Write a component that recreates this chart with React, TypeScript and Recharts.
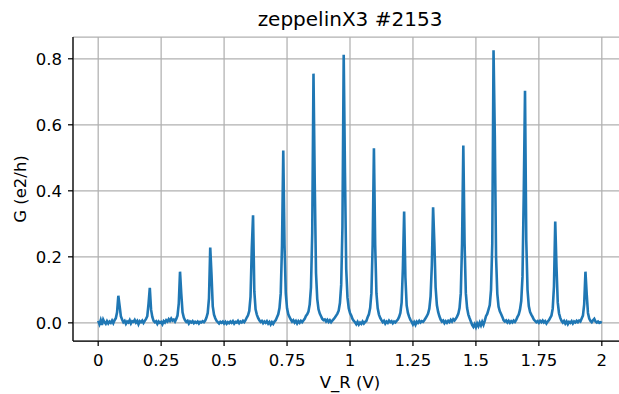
import { CartesianGrid, Line, LineChart, XAxis, YAxis } from "recharts";

// sweep of V_R: 0 → 2 V in 5 mV steps
const VR_START = 0;
const VR_STEP = 0.005;

// G (e2/h), one list per quarter volt
const g0 = [0.006, -0.004, 0.008, -0.006, 0.01, 0.002, -0.003, 0.005, -0.002, 0.004, 0.0, 0.007, -0.001, 0.008, 0.014, 0.032, 0.082, 0.052, 0.02, 0.01, 0.002, 0.006, -0.003, 0.004, 0.001, 0.008, -0.002, 0.005, 0.003, 0.009, 0.001, 0.006, -0.004, 0.005, 0.002, 0.007, 0.0, 0.006, 0.012, 0.02, 0.058, 0.106, 0.04, 0.018, 0.006, 0.002, 0.005, -0.003, 0.004, 0.0];
const g1 = [0.003, -0.004, 0.005, 0.001, 0.008, 0.004, 0.011, 0.006, 0.013, 0.007, 0.01, 0.004, 0.012, 0.022, 0.058, 0.155, 0.088, 0.032, 0.016, 0.008, 0.003, 0.006, -0.002, 0.004, 0.001, 0.005, -0.001, 0.003, 0.0, 0.004, -0.002, 0.003, 0.001, 0.005, 0.002, 0.007, 0.016, 0.03, 0.074, 0.228, 0.146, 0.05, 0.025, 0.014, 0.006, 0.002, -0.002, 0.003, 0.0, 0.004];
const g2 = [-0.002, 0.003, -0.003, 0.002, -0.001, 0.004, 0.0, 0.005, -0.002, 0.003, 0.001, 0.006, -0.001, 0.004, 0.001, 0.006, 0.002, 0.008, 0.016, 0.023, 0.036, 0.079, 0.226, 0.326, 0.096, 0.041, 0.025, 0.015, 0.008, 0.003, 0.006, -0.001, 0.004, 0.0, 0.005, -0.002, 0.003, -0.005, 0.002, -0.003, 0.004, 0.008, 0.017, 0.026, 0.045, 0.09, 0.234, 0.522, 0.234, 0.089];
const g3 = [0.044, 0.026, 0.017, 0.01, 0.004, 0.008, 0.001, 0.006, -0.002, 0.005, 0.0, 0.006, 0.002, 0.007, 0.012, 0.021, 0.026, 0.034, 0.056, 0.107, 0.272, 0.755, 0.422, 0.151, 0.072, 0.041, 0.028, 0.02, 0.012, 0.008, 0.01, 0.004, 0.009, 0.003, 0.008, 0.002, 0.007, 0.011, 0.016, 0.022, 0.028, 0.037, 0.06, 0.115, 0.291, 0.812, 0.456, 0.163, 0.077, 0.044];
const g4 = [0.03, 0.022, 0.012, 0.006, 0.002, -0.004, 0.003, -0.005, 0.001, -0.003, 0.004, -0.002, 0.003, 0.006, 0.017, 0.026, 0.045, 0.09, 0.237, 0.529, 0.236, 0.089, 0.044, 0.025, 0.015, 0.008, 0.002, 0.006, -0.002, 0.004, 0.0, 0.007, 0.002, 0.005, -0.001, 0.004, 0.001, 0.006, 0.01, 0.018, 0.03, 0.061, 0.165, 0.337, 0.138, 0.053, 0.03, 0.018, 0.009, 0.003];
const g5 = [-0.005, 0.002, -0.006, 0.004, 0.0, 0.006, 0.001, 0.005, 0.003, 0.008, 0.014, 0.02, 0.028, 0.043, 0.08, 0.175, 0.35, 0.242, 0.107, 0.054, 0.033, 0.02, 0.01, 0.004, 0.007, -0.001, 0.005, 0.0, 0.006, 0.002, 0.009, 0.004, 0.011, 0.007, 0.012, 0.019, 0.027, 0.045, 0.09, 0.24, 0.537, 0.24, 0.09, 0.045, 0.025, 0.014, 0.004, -0.006, -0.012, -0.004];
const g6 = [-0.013, -0.002, -0.01, 0.001, -0.008, 0.003, -0.006, 0.006, 0.02, 0.027, 0.04, 0.054, 0.1, 0.24, 0.826, 0.57, 0.2, 0.088, 0.049, 0.035, 0.027, 0.018, 0.008, 0.004, 0.007, 0.001, 0.006, 0.0, 0.005, 0.001, 0.007, 0.003, 0.009, 0.018, 0.025, 0.04, 0.066, 0.14, 0.39, 0.703, 0.25, 0.1, 0.051, 0.033, 0.025, 0.018, 0.01, 0.006, 0.002, 0.005];
const g7 = [0.0, 0.006, 0.002, 0.007, 0.001, 0.005, -0.002, 0.004, 0.008, 0.015, 0.022, 0.043, 0.11, 0.307, 0.17, 0.062, 0.029, 0.015, 0.006, 0.001, 0.006, -0.002, 0.004, -0.004, 0.003, 0.0, 0.005, -0.002, 0.004, 0.001, 0.006, 0.002, 0.007, 0.004, 0.013, 0.022, 0.056, 0.155, 0.087, 0.03, 0.013, 0.006, 0.002, 0.008, 0.012, 0.004, 0.001, 0.004, 0.0, 0.002, 0.0];

const xTicks = [0, 0.25, 0.5, 0.75, 1, 1.25, 1.5, 1.75, 2];
const yTicks = [0, 0.2, 0.4, 0.6, 0.8];

const TITLE = "zeppelinX3 #2153";
const X_LABEL = "V_R (V)";
const Y_LABEL = "G (e2/h)";

const rows = [...g0, ...g1, ...g2, ...g3, ...g4, ...g5, ...g6, ...g7].map((g, i) => ({
  v: +(VR_START + i * VR_STEP).toFixed(3),
  g,
}));

const FONT = "'DejaVu Sans', sans-serif";
const tickStyle = { fontSize: 16.5, fill: "#000", fontFamily: FONT };

export default function App() {
  return (
    <div style={{ position: "absolute", left: 0, top: 0, width: 619, height: 394, overflow: "hidden", background: "#fff" }}>
      <LineChart width={640} height={394} data={rows} margin={{ top: 37, right: 13, left: 0, bottom: 0 }}>
        <CartesianGrid stroke="#b0b0b0" strokeWidth={1.25} />
        <XAxis
          dataKey="v"
          type="number"
          domain={[-0.1, 2.1]}
          ticks={xTicks}
          tickFormatter={(v: number) => String(v)}
          allowDataOverflow
          height={53}
          stroke="#000"
          strokeWidth={1.25}
          tickSize={5}
          tickMargin={8}
          tick={tickStyle}
        />
        <XAxis xAxisId="top" orientation="top" type="number" domain={[-0.1, 2.1]} height={0} tick={false} tickLine={false} stroke="#000" strokeWidth={1.25} />
        <YAxis
          type="number"
          domain={[-0.055, 0.866]}
          ticks={yTicks}
          tickFormatter={(v: number) => v.toFixed(1)}
          allowDataOverflow
          width={73}
          stroke="#000"
          strokeWidth={1.25}
          tickSize={5}
          tickMargin={6}
          tick={tickStyle}
        />
        <Line
          type="linear"
          dataKey="g"
          stroke="#1f77b4"
          strokeWidth={2.6}
          dot={false}
          activeDot={false}
          isAnimationActive={false}
        />
      </LineChart>
      <svg width={619} height={394} style={{ position: "absolute", left: 0, top: 0, pointerEvents: "none" }}>
        <text x={350} y={26} textAnchor="middle" fontSize={20} fontFamily={FONT} fill="#000">
          {TITLE}
        </text>
        <text x={350} y={388} textAnchor="middle" fontSize={16.5} fontFamily={FONT} fill="#000">
          {X_LABEL}
        </text>
        <text transform="translate(26,189) rotate(-90)" textAnchor="middle" fontSize={16.5} fontFamily={FONT} fill="#000">
          {Y_LABEL}
        </text>
      </svg>
    </div>
  );
}
